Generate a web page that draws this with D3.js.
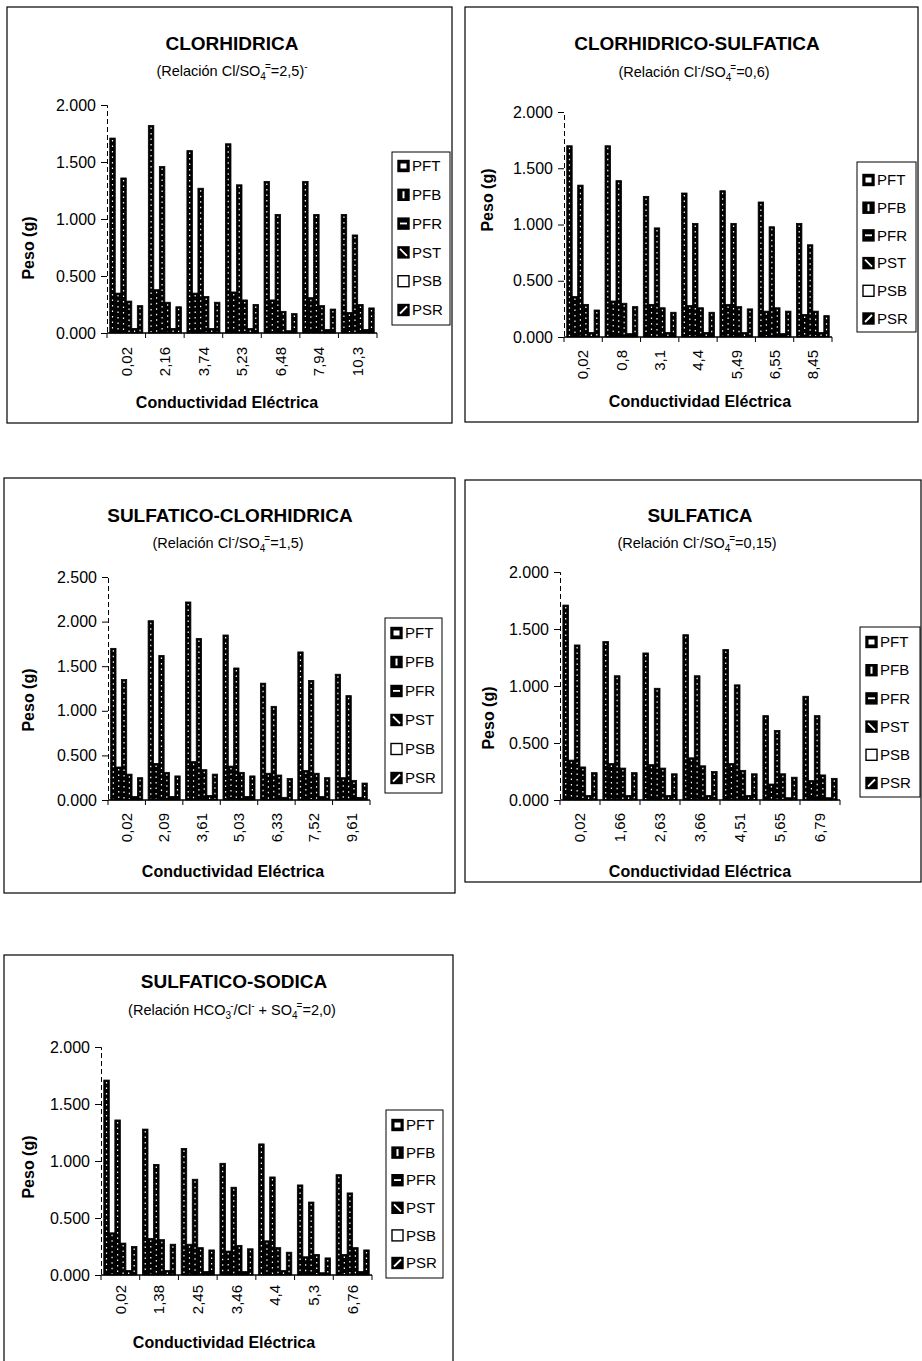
<!DOCTYPE html>
<html><head><meta charset="utf-8">
<script src="https://cdn.jsdelivr.net/npm/d3@7"></script>
<style>body{margin:0;background:#fff} svg{display:block} text{font-family:"Liberation Sans",Arial,sans-serif;fill:#000}</style>
</head><body><svg id="c" width="922" height="1361"></svg>
<script>
// ---------- DATA ----------
const seriesNames = ["PFT","PFB","PFR","PST","PSB","PSR"];

const titles = ["CLORHIDRICA","CLORHIDRICO-SULFATICA","SULFATICO-CLORHIDRICA","SULFATICA","SULFATICO-SODICA"];
// subtitle pieces: [text, kind]  kind: n normal, sub, sup
const subtitles = [
  [["(Relación Cl/SO","n"],["4","sub"],["=","sup"],["=2,5)","n"],["-","sup"]],
  [["(Relación Cl","n"],["-","sup"],["/SO","n"],["4","sub"],["=","sup"],["=0,6)","n"]],
  [["(Relación Cl","n"],["-","sup"],["/SO","n"],["4","sub"],["=","sup"],["=1,5)","n"]],
  [["(Relación Cl","n"],["-","sup"],["/SO","n"],["4","sub"],["=","sup"],["=0,15)","n"]],
  [["(Relación HCO","n"],["3","sub"],["-","sup"],["/Cl","n"],["-","sup"],[" + SO","n"],["4","sub"],["=","sup"],["=2,0)","n"]]
];

const cats1 = ["0,02","2,16","3,74","5,23","6,48","7,94","10,3"];
const cats2 = ["0,02","0,8","3,1","4,4","5,49","6,55","8,45"];
const cats3 = ["0,02","2,09","3,61","5,03","6,33","7,52","9,61"];
const cats4 = ["0,02","1,66","2,63","3,66","4,51","5,65","6,79"];
const cats5 = ["0,02","1,38","2,45","3,46","4,4","5,3","6,76"];

// rows: PFT, PFB, PFR, PST, PSB, PSR
const vals1 = [
  [1.71,1.82,1.60,1.66,1.33,1.33,1.04],
  [0.35,0.38,0.35,0.36,0.29,0.31,0.18],
  [1.36,1.46,1.27,1.30,1.04,1.04,0.86],
  [0.28,0.27,0.32,0.29,0.19,0.24,0.25],
  [0.04,0.04,0.04,0.04,0.02,0.03,0.03],
  [0.24,0.23,0.27,0.25,0.17,0.21,0.22]
];
const vals2 = [
  [1.70,1.70,1.25,1.28,1.30,1.20,1.01],
  [0.36,0.32,0.29,0.28,0.29,0.23,0.20],
  [1.35,1.39,0.97,1.01,1.01,0.98,0.82],
  [0.29,0.30,0.26,0.26,0.27,0.26,0.23],
  [0.04,0.03,0.04,0.04,0.04,0.03,0.04],
  [0.24,0.27,0.22,0.22,0.25,0.23,0.19]
];
const vals3 = [
  [1.70,2.01,2.22,1.85,1.31,1.66,1.41],
  [0.37,0.41,0.43,0.38,0.30,0.33,0.25],
  [1.35,1.62,1.81,1.48,1.05,1.34,1.17],
  [0.29,0.31,0.34,0.31,0.28,0.30,0.22],
  [0.04,0.04,0.05,0.04,0.03,0.04,0.03],
  [0.25,0.27,0.29,0.27,0.24,0.25,0.19]
];
const vals4 = [
  [1.71,1.39,1.29,1.45,1.32,0.74,0.91],
  [0.35,0.32,0.31,0.37,0.32,0.14,0.17],
  [1.36,1.09,0.98,1.09,1.01,0.61,0.74],
  [0.29,0.28,0.28,0.30,0.26,0.23,0.22],
  [0.04,0.04,0.04,0.04,0.04,0.02,0.02],
  [0.24,0.24,0.23,0.25,0.23,0.20,0.19]
];
const vals5 = [
  [1.71,1.28,1.11,0.98,1.15,0.79,0.88],
  [0.37,0.32,0.27,0.21,0.30,0.16,0.18],
  [1.36,0.97,0.84,0.77,0.86,0.64,0.72],
  [0.28,0.31,0.24,0.26,0.24,0.18,0.24],
  [0.04,0.04,0.03,0.03,0.04,0.02,0.03],
  [0.25,0.27,0.22,0.23,0.20,0.15,0.22]
];

const ticks2 = [0,0.5,1,1.5,2];
const ticks25 = [0,0.5,1,1.5,2,2.5];
const tickLabels2 = ["0.000","0.500","1.000","1.500","2.000"];
const tickLabels25 = ["0.000","0.500","1.000","1.500","2.000","2.500"];

const yAxisTitle = "Peso (g)";
const xAxisTitle = "Conductividad Eléctrica";

// ---------- LAYOUT (positions / styles) ----------
const layout = [
  {box:[7,7,452,423], plot:[107,105,377,333], title:[232,50], sub:[232,76], ylab:[28,248], leg:[392,152,450,325], legY0:166, legStep:28.8, xlabTop:347, xtitle:[227,408], ymax:2, ticks:ticks2, tl:tickLabels2},
  {box:[465,7,918,422], plot:[564,112,832,337], title:[697,50], sub:[694,77], ylab:[487,200], leg:[857,162,916,332], legY0:180, legStep:27.7, xlabTop:350, xtitle:[700,407], ymax:2, ticks:ticks2, tl:tickLabels2},
  {box:[4,478,455,893], plot:[108,577,370,800], title:[230,522], sub:[228,548], ylab:[28,700], leg:[385,618,442,793], legY0:633, legStep:29, xlabTop:813, xtitle:[233,877], ymax:2.5, ticks:ticks25, tl:tickLabels25},
  {box:[465,480,921,882], plot:[560,572,840,800], title:[700,522], sub:[697,548], ylab:[488,718], leg:[860,627,920,797], legY0:642, legStep:28.2, xlabTop:813, xtitle:[700,877], ymax:2, ticks:ticks2, tl:tickLabels2},
  {box:[4,955,453,1370], plot:[101,1047,372,1275], title:[234,988], sub:[232,1015], ylab:[28,1167], leg:[386,1110,443,1278], legY0:1125, legStep:27.6, xlabTop:1285, xtitle:[224,1348], ymax:2, ticks:ticks2, tl:tickLabels2}
];
const allCats = [cats1,cats2,cats3,cats4,cats5];
const allVals = [vals1,vals2,vals3,vals4,vals5];
const swatchMarks = ["box","vbar","hline","diagB","empty","diagF"];

const svg = d3.select("#c");

function drawSwatch(g, x, y, s, mark){
  const empty = mark === "empty";
  g.append("rect").attr("x",x).attr("y",y).attr("width",s).attr("height",s)
    .attr("fill", empty ? "#fff" : "#000").attr("stroke","#000").attr("stroke-width",1.4);
  const w = "#fff";
  if (mark === "box") g.append("rect").attr("x",x+2.5).attr("y",y+3).attr("width",s-5).attr("height",s-6).attr("fill",w);
  if (mark === "vbar") g.append("rect").attr("x",x+s/2-1).attr("y",y+2).attr("width",2).attr("height",s-4).attr("fill",w);
  if (mark === "hline") g.append("rect").attr("x",x+2).attr("y",y+s/2-1).attr("width",s-4).attr("height",1.8).attr("fill",w);
  if (mark === "diagB") g.append("line").attr("x1",x+2).attr("y1",y+2).attr("x2",x+s-2).attr("y2",y+s-2).attr("stroke",w).attr("stroke-width",1.8);
  if (mark === "diagF") g.append("line").attr("x1",x+2).attr("y1",y+s-2).attr("x2",x+s-2).attr("y2",y+2).attr("stroke",w).attr("stroke-width",1.8);
}

layout.forEach((L, p) => {
  const cats = allCats[p], vals = allVals[p];
  const g = svg.append("g");
  // frame
  g.append("rect").attr("x",L.box[0]).attr("y",L.box[1]).attr("width",L.box[2]-L.box[0]).attr("height",L.box[3]-L.box[1])
    .attr("fill","none").attr("stroke","#000").attr("stroke-width",1.2);

  // titles
  g.append("text").attr("x",L.title[0]).attr("y",L.title[1]).attr("text-anchor","middle")
    .attr("font-size",19).attr("font-weight","bold").text(titles[p]);
  const st = g.append("text").attr("x",L.sub[0]).attr("y",L.sub[1]).attr("text-anchor","middle").attr("font-size",14.5);
  let prev = "n";
  subtitles[p].forEach(([t,k]) => {
    const ts = st.append("tspan").text(t);
    const off = k==="sub" ? 4 : k==="sup" ? -6 : 0;
    const prevOff = prev==="sub" ? 4 : prev==="sup" ? -6 : 0;
    const dy = off - prevOff;
    if (dy !== 0) ts.attr("dy", dy);
    if (k !== "n") ts.attr("font-size", 10);
    if (k === "sup" && prev === "sub") ts.attr("dx", -1);
    prev = k;
  });

  const [x0,y0,x1,y1] = L.plot;
  const y = d3.scaleLinear().domain([0,L.ymax]).range([y1,y0]);
  const xo = d3.scaleBand().domain(cats).range([x0,x1]).padding(0);
  const xi = d3.scaleBand().domain(seriesNames).range([0,xo.bandwidth()]).paddingInner(0).paddingOuter(0.5);

  // bars
  seriesNames.forEach((s, si) => {
    const bars = g.append("g");
    cats.forEach((c, ci) => {
      const v = vals[si][ci];
      const bx = xo(c) + xi(s), bw = xi.bandwidth();
      bars.append("rect").attr("x",bx).attr("y",y(v)).attr("width",bw).attr("height",y(0)-y(v))
        .attr("fill","#000").attr("stroke","#000").attr("stroke-width",0.8);
      if (y(0)-y(v) > 4) {
        bars.append("line").attr("x1",bx+bw/2).attr("x2",bx+bw/2).attr("y1",y(v)+2).attr("y2",y(0)-1)
          .attr("stroke","#fff").attr("stroke-width",1.2).attr("stroke-dasharray","1.5,4");
      }
    });
  });

  // y axis
  const ya = d3.axisLeft(y).tickValues(L.ticks).tickFormat((d,i)=>L.tl[i]).tickSize(6).tickPadding(5);
  const yg = g.append("g").attr("transform",`translate(${x0},0)`).call(ya);
  yg.select(".domain").attr("stroke","#000").attr("stroke-width",1).attr("stroke-dasharray","5,3");
  yg.selectAll(".tick line").attr("stroke","#000");
  yg.selectAll(".tick text").attr("font-size",16).attr("font-family","'Liberation Sans',Arial,sans-serif").attr("fill","#000");

  // x axis
  g.append("line").attr("x1",x0).attr("x2",x1).attr("y1",y1).attr("y2",y1).attr("stroke","#000").attr("stroke-width",1.3);
  const bounds = cats.map(c => xo(c)).concat([x1]);
  g.selectAll(null).data(bounds).enter().append("line")
    .attr("x1",d=>d).attr("x2",d=>d).attr("y1",y1).attr("y2",y1+5).attr("stroke","#000");
  g.selectAll(null).data(cats).enter().append("text")
    .attr("transform",d=>`translate(${xo(d)+xo.bandwidth()/2},${L.xlabTop}) rotate(-90)`)
    .attr("text-anchor","end").attr("dy","0.35em").attr("font-size",15).text(d=>d);

  // axis titles
  g.append("text").attr("transform",`translate(${L.ylab[0]},${L.ylab[1]}) rotate(-90)`)
    .attr("text-anchor","middle").attr("dy","0.35em").attr("font-size",16).attr("font-weight","bold").text(yAxisTitle);
  g.append("text").attr("x",L.xtitle[0]).attr("y",L.xtitle[1]).attr("text-anchor","middle")
    .attr("font-size",16).attr("font-weight","bold").text(xAxisTitle);

  // legend
  const lg = g.append("g");
  lg.append("rect").attr("x",L.leg[0]).attr("y",L.leg[1]).attr("width",L.leg[2]-L.leg[0]).attr("height",L.leg[3]-L.leg[1])
    .attr("fill","#fff").attr("stroke","#000").attr("stroke-width",1);
  seriesNames.forEach((s, i) => {
    const cy = L.legY0 + i*L.legStep;
    drawSwatch(lg, L.leg[0]+6, cy-5.5, 11, swatchMarks[i]);
    lg.append("text").attr("x",L.leg[0]+20).attr("y",cy).attr("dy","0.35em").attr("font-size",15).text(s);
  });
});
</script></body></html>
